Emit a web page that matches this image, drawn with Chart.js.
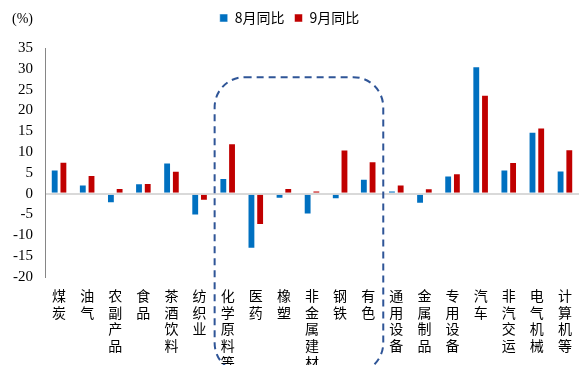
<!DOCTYPE html>
<html><head><meta charset="utf-8">
<script src="https://cdn.jsdelivr.net/npm/chart.js@4"></script>
<style>html,body{margin:0;padding:0;background:#fff}#w{width:579px;height:365px;position:relative}</style>
</head><body><div id="w"><canvas id="c"></canvas></div>
<script>
const categories = ["煤炭","油气","农副产品","食品","茶酒饮料","纺织业","化学原料等","医药","橡塑","非金属建材","钢铁","有色","通用设备","金属制品","专用设备","汽车","非汽交运","电气机械","计算机等"];
const aug = [5.8,2.2,-2.3,2.5,7.5,-5.2,3.8,-13.2,-1.2,-5.0,-1.3,3.6,0.8,-2.4,4.4,30.6,5.8,14.9,5.6];
const sep = [7.7,4.5,1.4,2.6,5.5,-1.7,12.1,-7.5,1.4,0.8,10.6,7.8,2.2,1.3,4.9,23.8,7.6,15.9,10.7];
const seriesNames = ["8月同比","9月同比"];
const highlightFrom = "化学原料等", highlightTo = "有色";

const cjk = '"Noto Sans CJK SC","Noto Sans",sans-serif';
const serif = '"Liberation Serif","Times New Roman",serif';

const boxPlugin = {
  id: 'box',
  beforeLayout(chart) {
    const lg = chart.legend;
    if (lg && !lg._patched) {
      const of = lg.fit;
      lg.fit = function () { of.call(this); this.height += 13; };
      lg._patched = true;
    }
  },
  afterDraw(chart) {
    const ctx = chart.ctx, x = chart.scales.x, y = chart.scales.y;
    const i0 = categories.indexOf(highlightFrom), i1 = categories.indexOf(highlightTo);
    const l = (x.getPixelForValue(i0 - 1) + x.getPixelForValue(i0)) / 2 + 1;
    const r = (x.getPixelForValue(i1) + x.getPixelForValue(i1 + 1)) / 2 + 1;
    const t = y.getPixelForValue(28);
    const b = chart.height + 8;
    const rad = 30;
    ctx.save();
    ctx.strokeStyle = '#2F5597';
    ctx.lineWidth = 2;
    ctx.setLineDash([7, 5]);
    ctx.beginPath();
    ctx.roundRect(l, t, r - l, b - t, rad);
    ctx.stroke();
    ctx.restore();
    ctx.save();
    ctx.fillStyle = '#000';
    ctx.font = '14px ' + serif;
    ctx.textBaseline = 'middle';
    ctx.fillText('(%)', 12, 19);
    ctx.restore();
  }
};

new Chart(document.getElementById('c'), {
  type: 'bar',
  data: {
    labels: categories.map(s => s.split('')),
    datasets: [
      {label: seriesNames[0], data: aug, backgroundColor: '#0070C0', borderColor: 'rgba(255,255,255,0.5)', borderWidth: 1},
      {label: seriesNames[1], data: sep, backgroundColor: '#C00000', borderColor: 'rgba(255,255,255,0.5)', borderWidth: 1}
    ]
  },
  options: {
    responsive: true, maintainAspectRatio: false, animation: false,
    layout: {padding: {left: 0, right: 0, top: 1, bottom: 0}},
    datasets: {bar: {categoryPercentage: 0.62, barPercentage: 0.9}},
    plugins: {
      legend: {
        display: true, position: 'top',
        labels: {boxWidth: 8, boxHeight: 8, color: '#000', font: {family: cjk, size: 14}, padding: 10}
      },
      tooltip: {enabled: false}
    },
    scales: {
      x: {
        grid: {display: false}, border: {display: false},
        ticks: {autoSkip: false, maxRotation: 0, minRotation: 0, color: '#000', font: {family: cjk, size: 14, lineHeight: 1.2}, padding: 2},
        afterFit(s) { s.height = 88; }
      },
      y: {
        min: -20, max: 35,
        ticks: {stepSize: 5, autoSkip: false, color: '#000', font: {family: serif, size: 15}, padding: 12},
        grid: {drawTicks: false, color: c => c.tick && c.tick.value === 0 ? '#D9D9D9' : 'rgba(0,0,0,0)', lineWidth: 2},
        border: {display: true, color: '#868686', width: 1},
        afterFit(s) { s.width = 45; }
      }
    }
  },
  plugins: [boxPlugin]
});
</script></body></html>
